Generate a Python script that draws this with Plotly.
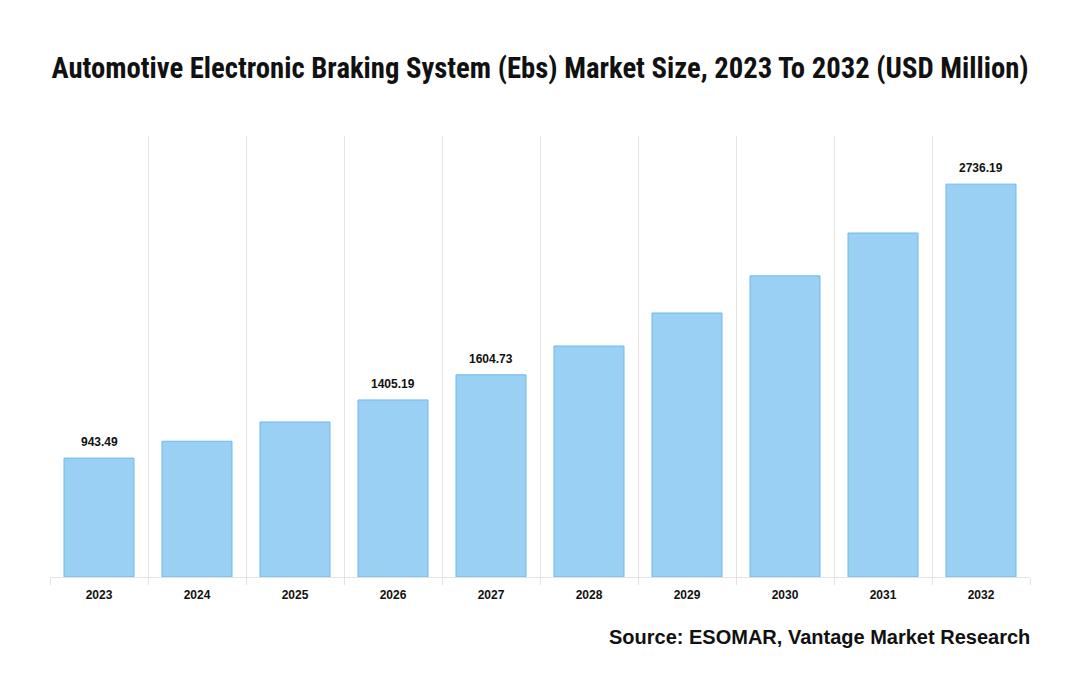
import plotly.graph_objects as go

years = ["2023", "2024", "2025", "2026", "2027", "2028", "2029", "2030", "2031", "2032"]
market_size = [943.49, 1077.5, 1230.5, 1405.19, 1604.73, 1833.0, 2095.0, 2390.0, 2730.0, 3118.0]
label_text = ["943.49", "", "", "1405.19", "1604.73", "", "", "", "", "2736.19"]

title_text = "Automotive Electronic Braking System (Ebs) Market Size, 2023 To 2032 (USD Million)"
source_text = "Source: ESOMAR, Vantage Market Research"

fig = go.Figure()
fig.add_trace(go.Bar(
    x=years,
    y=market_size,
    marker=dict(color="#9AD0F4", line=dict(color="#6DB9EE", width=1)),
    width=0.714,
    hoverinfo="x+y",
))

label_annotations = [
    dict(
        x=i, y=val, xref="x", yref="y",
        text="<b>" + lab + "</b>",
        showarrow=False,
        yanchor="middle", yshift=16,
        font=dict(family="Liberation Sans, Arial, sans-serif", size=12, color="#111111"),
    )
    for i, (val, lab) in enumerate(zip(market_size, label_text)) if lab
]

fig.update_layout(
    width=1080,
    height=700,
    paper_bgcolor="white",
    plot_bgcolor="white",
    showlegend=False,
    margin=dict(l=42, r=58, t=128, b=131),
    title=dict(
        text="<b>" + title_text + "</b>",
        x=(540 - 8) / 1080, xanchor="center",
        y=1 - 60 / 700, yanchor="middle", yref="container",
        font=dict(family="Liberation Sans Narrow, Roboto Condensed, Arial Narrow, sans-serif", size=28.7, color="#111111"),
    ),
    xaxis=dict(
        type="category",
        categoryorder="array",
        categoryarray=years,
        tickson="boundaries",
        showgrid=True,
        gridcolor="#E3E3E3",
        gridwidth=1,
        ticks="outside",
        ticklen=7,
        tickcolor="#E3E3E3",
        ticklabelstandoff=7,
        showline=True,
        linecolor="#E3E3E3",
        linewidth=1,
        tickfont=dict(family="Liberation Sans, Arial, sans-serif", size=12, color="#111111", weight="bold"),
        fixedrange=True,
    ),
    yaxis=dict(
        range=[0, 3500],
        showgrid=False,
        showticklabels=False,
        zeroline=False,
        showline=False,
        fixedrange=True,
    ),
    annotations=label_annotations + [dict(
        text="<b>" + source_text + "</b>",
        xref="paper", yref="paper",
        x=1.0, xanchor="right", xshift=2,
        y=-(637 - 577) / 441, yanchor="middle",
        showarrow=False,
        font=dict(family="Liberation Sans, Arial, sans-serif", size=20, color="#111111"),
    )],
)

fig.write_html("out.html")
